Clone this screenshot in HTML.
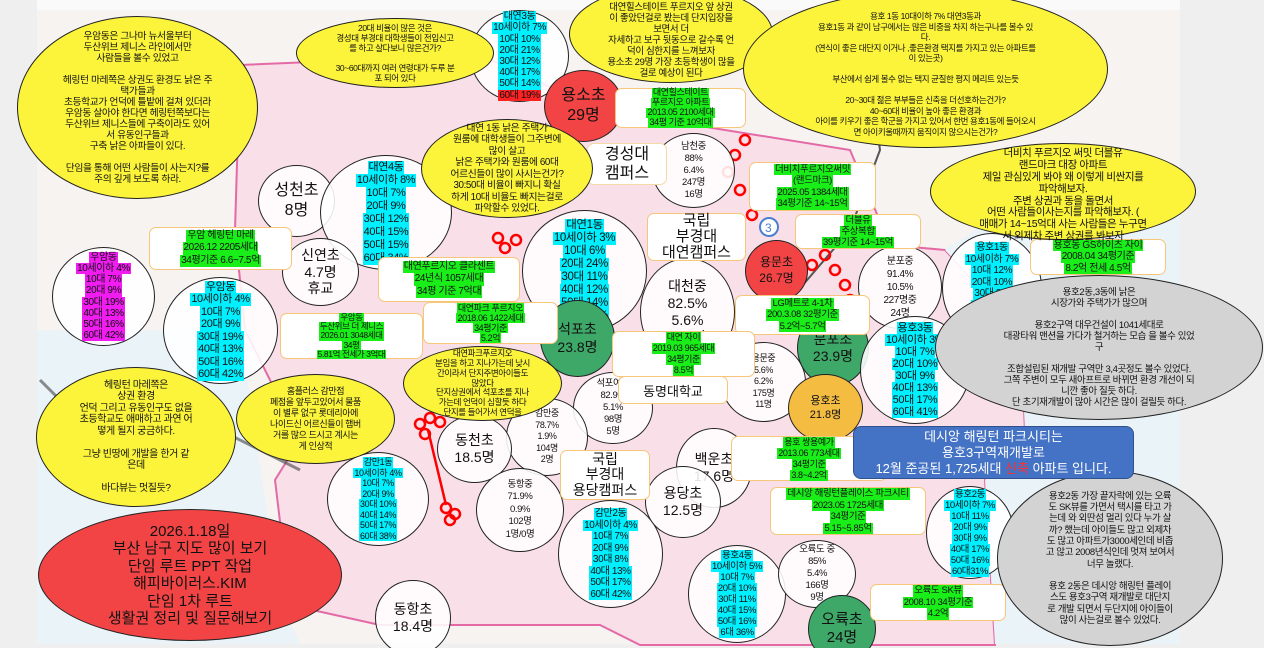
<!DOCTYPE html>
<html><head><meta charset="utf-8">
<style>
*{box-sizing:border-box;margin:0;padding:0}
html,body{width:1264px;height:648px;overflow:hidden}
body{background:#efefef;font-family:"Liberation Sans","Noto Sans CJK KR",sans-serif;color:#111;position:relative}
.a{position:absolute;display:flex;flex-direction:column;align-items:center;justify-content:center;text-align:center;white-space:nowrap;overflow:visible}
.e{border-radius:50%;border:1.5px solid #222}
.y{background:#fbf43a}
.w{background:rgba(255,255,255,.88)}
.gr{background:#d3d3d3}
.rd{background:#f24444}
.gn{background:#3ea868}
.or{background:#f4bd42}
.b{background:#fff;border:1.5px solid #f6c67a;border-radius:7px}
.l{line-height:1.12;letter-spacing:-.4px}
.cy span{background:#00f0ff}
.mg span{background:#f01cf0}
.g span{background:#19ee19}
span{padding:0 1px}
</style></head><body>
<svg width="1264" height="648" style="position:absolute;left:0;top:0">
<rect x="37" y="10" width="1143" height="634" fill="#f6f3f1"/>
<rect x="37" y="0" width="1143" height="10" fill="#fafafa"/>
<polygon points="240,65 480,55 600,110 850,150 890,245 945,250 1020,330 1025,430 985,480 995,645 640,645 600,625 380,625 290,605 275,480 300,440 245,330 235,230" fill="#f8dfe8" stroke="#e46aa6" stroke-width="2"/>
<polygon points="37,330 240,330 280,600 300,644 37,644" fill="#e9f3f8"/>
<polygon points="1020,200 1180,200 1180,644 995,644 985,480 1025,430 1020,330 945,250" fill="#eaf3f8"/>
<path d="M860,0 L880,150 L850,230 L790,300" stroke="#555" stroke-width="2" fill="none"/>
<path d="M40,380 L120,460 L200,420 L300,470" stroke="#444" stroke-width="3" fill="none" opacity=".6"/>
<g fill="none" stroke="#f00" stroke-width="2.5">
<circle cx="498" cy="238" r="5"/><circle cx="505" cy="248" r="5"/><circle cx="516" cy="240" r="5"/>
<circle cx="745" cy="140" r="5"/><circle cx="735" cy="155" r="5"/><circle cx="728" cy="172" r="5"/><circle cx="740" cy="190" r="5"/><circle cx="752" cy="215" r="5"/>
<circle cx="790" cy="290" r="5"/><circle cx="800" cy="278" r="5"/><circle cx="812" cy="265" r="5"/><circle cx="825" cy="255" r="5"/><circle cx="835" cy="270" r="5"/><circle cx="845" cy="285" r="5"/><circle cx="850" cy="300" r="5"/>
<circle cx="420" cy="424" r="5"/><circle cx="430" cy="418" r="5"/><circle cx="440" cy="422" r="5"/><circle cx="425" cy="434" r="5"/>
<circle cx="446" cy="508" r="5"/><circle cx="455" cy="514" r="5"/><circle cx="450" cy="520" r="5"/>
<path d="M428,430 L446,505"/>
</g>
<circle cx="769" cy="227" r="9" fill="#fff" stroke="#4a7fd0" stroke-width="2"/>
<text x="765" y="232" font-size="12" fill="#4a7fd0" font-family="Liberation Sans">3</text>
</svg>

<div class="a e w l cy" style="left:470px;top:10px;width:99px;height:92px;font-size:10px"><span>대연3동</span><span>10세이하 7%</span><span>10대 10%</span><span>20대 21%</span><span>30대 12%</span><span>40대 17%</span><span>50대 14%</span><span style="background:#f22">60대 19%</span></div>
<div class="a e rd" style="left:544px;top:70px;width:79px;height:72px;font-size:16px;line-height:1.25">용소초<br>29명</div>
<div class="a e w" style="left:258px;top:165px;width:77px;height:72px;font-size:16px;line-height:1.25">성천초<br>8명</div>
<div class="a e w l cy" style="left:320px;top:155px;width:132px;height:115px;font-size:11px;line-height:13px"><span>대연4동</span><span>10세이하 8%</span><span>10대 7%</span><span>20대 9%</span><span>30대 12%</span><span>40대 15%</span><span>50대 15%</span><span>60대 34%</span></div>
<div class="a e w" style="left:282px;top:238px;width:77px;height:68px;font-size:14px;line-height:1.2">신연초<br>4.7명<br>휴교</div>
<div class="a e w l mg" style="left:52px;top:247px;width:103px;height:99px;font-size:10px"><span>우암동</span><span>10세이하 4%</span><span>10대 7%</span><span>20대 9%</span><span>30대 19%</span><span>40대 13%</span><span>50대 16%</span><span>60대 42%</span></div>
<div class="a e w l cy" style="left:163px;top:277px;width:115px;height:107px;font-size:11px;line-height:12.5px"><span>우암동</span><span>10세이하 4%</span><span>10대 7%</span><span>20대 9%</span><span>30대 19%</span><span>40대 13%</span><span>50대 16%</span><span>60대 42%</span></div>
<div class="a e w l cy" style="left:522px;top:210px;width:125px;height:122px;font-size:11.5px;line-height:13px"><span>대연1동</span><span>10세이하 3%</span><span>10대 6%</span><span>20대 24%</span><span>30대 11%</span><span>40대 12%</span><span>50대 14%</span><span>60대 30%</span></div>
<div class="a e gn" style="left:540px;top:300px;width:75px;height:77px;font-size:14px;line-height:1.25">석포초<br>23.8명</div>
<div class="a e w l" style="left:652px;top:133px;width:83px;height:75px;font-size:9.5px;line-height:12px">남천중<br>88%<br>6.4%<br>247명<br>16명</div>
<div class="a e w" style="left:640px;top:258px;width:95px;height:108px;font-size:14px;line-height:1.2">대천중<br>82.5%<br>5.6%<br>193명</div>
<div class="a e rd" style="left:745px;top:240px;width:63px;height:62px;font-size:12px;line-height:1.3">용문초<br>26.7명</div>
<div class="a e w l" style="left:858px;top:245px;width:84px;height:84px;font-size:10px;line-height:13px">분포중<br>91.4%<br>10.5%<br>227명중<br>24명</div>
<div class="a e w l cy" style="left:942px;top:233px;width:100px;height:110px;font-size:10px;line-height:11.5px"><span>용호1동</span><span>10세이하 7%</span><span>10대 12%</span><span>20대 10%</span><span>30대 8%</span><span>40대 16%</span><span>50대 18%</span><span>60대 29%</span></div>
<div class="a e w l" style="left:721px;top:342px;width:85px;height:80px;font-size:9px;line-height:11.5px">용문중<br>5.6%<br>6.2%<br>175명<br>11명</div>
<div class="a e gn" style="left:797px;top:310px;width:72px;height:76px;font-size:14px;line-height:1.25">분포초<br>23.9명</div>
<div class="a e w l cy" style="left:860px;top:316px;width:110px;height:108px;font-size:11px;line-height:12px"><span>용호3동</span><span>10세이하 3%</span><span>10대 7%</span><span>20대 10%</span><span>30대 9%</span><span>40대 13%</span><span>50대 17%</span><span>60대 41%</span></div>
<div class="a e or" style="left:788px;top:374px;width:75px;height:68px;font-size:11px;line-height:1.3">용호초<br>21.8명</div>
<div class="a e w l" style="left:573px;top:372px;width:80px;height:72px;font-size:9.5px;line-height:12px">석포여중<br>82.9%<br>5.1%<br>98명<br>5명</div>
<div class="a e w l" style="left:506px;top:398px;width:82px;height:78px;font-size:9px;line-height:11.5px">감만중<br>78.7%<br>1.9%<br>104명<br>2명</div>
<div class="a e w" style="left:437px;top:415px;width:75px;height:68px;font-size:14px;line-height:1.25">동천초<br>18.5명</div>
<div class="a e w l" style="left:476px;top:468px;width:88px;height:84px;font-size:9.5px;line-height:12.5px">동항중<br>71.9%<br>0.9%<br>102명<br>1명/0명</div>
<div class="a e w l cy" style="left:327px;top:452px;width:102px;height:94px;font-size:9px;line-height:10.5px"><span>감만1동</span><span>10세이하 4%</span><span>10대 7%</span><span>20대 9%</span><span>30대 10%</span><span>40대 14%</span><span>50대 17%</span><span>60대 38%</span></div>
<div class="a e w" style="left:375px;top:580px;width:76px;height:76px;font-size:14px;line-height:1.25">동항초<br>18.4명</div>
<div class="a e w l cy" style="left:558px;top:500px;width:105px;height:108px;font-size:10px;line-height:11.5px"><span>감만2동</span><span>10세이하 4%</span><span>10대 7%</span><span>20대 9%</span><span>30대 8%</span><span>40대 13%</span><span>50대 17%</span><span>60대 42%</span></div>
<div class="a e w" style="left:676px;top:428px;width:76px;height:80px;font-size:14px;line-height:1.25">백운초<br>17.6명</div>
<div class="a e w" style="left:645px;top:466px;width:76px;height:72px;font-size:14px;line-height:1.25">용당초<br>12.5명</div>
<div class="a e w l cy" style="left:926px;top:486px;width:88px;height:93px;font-size:9.5px;line-height:11px"><span>용호2동</span><span>10세이하 7%</span><span>10대 11%</span><span>20대 9%</span><span>30대 9%</span><span>40대 17%</span><span>50대 16%</span><span>60대31%</span></div>
<div class="a e w l cy" style="left:688px;top:545px;width:98px;height:98px;font-size:9.5px;line-height:11px"><span>용호4동</span><span>10세이하 5%</span><span>10대 7%</span><span>20대 10%</span><span>30대 11%</span><span>40대 15%</span><span>50대 16%</span><span>6대 36%</span></div>
<div class="a e w l" style="left:778px;top:540px;width:78px;height:68px;font-size:9.5px;line-height:12px">오륙도 중<br>85%<br>5.4%<br>166명<br>9명</div>
<div class="a e gn" style="left:808px;top:595px;width:68px;height:68px;font-size:15px;line-height:1.2">오륙초<br>24명</div>

<div class="a b" style="left:587px;top:143px;width:80px;height:42px;font-size:16px;line-height:1.2;border-color:#f5d9a6">경성대<br>캠퍼스</div>
<div class="a b" style="left:647px;top:213px;width:99px;height:48px;font-size:15px;line-height:1.05">국립<br>부경대<br>대연캠퍼스</div>
<div class="a b" style="left:560px;top:450px;width:90px;height:50px;font-size:14px;line-height:1.1">국립<br>부경대<br>용당캠퍼스</div>
<div class="a b" style="left:618px;top:376px;width:110px;height:28px;font-size:13px">동명대학교</div>
<div class="a b l g" style="left:149px;top:227px;width:143px;height:43px;font-size:10px;line-height:12.5px"><span>우암 헤링턴 마레</span><span>2026.12 2205세대</span><span>34평기준 6.6~7.5억</span></div>
<div class="a b l g" style="left:378px;top:257px;width:142px;height:45px;font-size:10px;line-height:12.5px"><span>대연푸르지오 클라센트</span><span>24년식 1057세대</span><span>34평 기준 7억대</span></div>
<div class="a b l g" style="left:423px;top:302px;width:135px;height:42px;font-size:9px;line-height:10px"><span>대연파크 푸르지오</span><span>2018.06 1422세대</span><span>34평기준</span><span>5.2억</span></div>
<div class="a b l g" style="left:280px;top:313px;width:143px;height:46px;font-size:8.5px;line-height:9.2px"><span>우암동</span><span>두산위브 더 제니스</span><span>2026.01 3048세대</span><span>34평</span><span>5.81억 전세가 3억대</span></div>
<div class="a b l g" style="left:615px;top:88px;width:131px;height:40px;font-size:9px;line-height:9.8px"><span>대연힐스테이트</span><span>푸르지오 아파트</span><span>2013.05 2100세대</span><span>34평 기준 10억대</span></div>
<div class="a b l g" style="left:749px;top:162px;width:127px;height:49px;font-size:9.5px;line-height:11.5px"><span>더비치푸르지오써밋</span><span>(랜드마크)</span><span>2025.05 1384세대</span><span>34평기준 14~15억</span></div>
<div class="a b l g" style="left:795px;top:214px;width:126px;height:35px;font-size:9.5px;line-height:11px"><span>더블유</span><span>주상복합</span><span>39평기준 14~15억</span></div>
<div class="a b l g" style="left:1030px;top:239px;width:136px;height:36px;font-size:10px;line-height:11.5px"><span>용호동 GS하이츠 자이</span><span>2008.04 34평기준</span><span>8.2억 전세 4.5억</span></div>
<div class="a b l g" style="left:735px;top:295px;width:135px;height:40px;font-size:9.5px;line-height:11.5px"><span>LG메트로 4-1차</span><span>200.3.08 32평기준</span><span>5.2억~5.7억</span></div>
<div class="a b l g" style="left:612px;top:331px;width:143px;height:46px;font-size:9px;line-height:11px"><span>대연 자이</span><span>2019.03 965세대</span><span>34평기준</span><span>8.5억</span></div>
<div class="a b l g" style="left:731px;top:436px;width:156px;height:45px;font-size:9px;line-height:11px"><span>용호 쌍용예가</span><span>2013.06 773세대</span><span>34평기준</span><span>3.8~4.2억</span></div>
<div class="a b l g" style="left:770px;top:487px;width:156px;height:48px;font-size:9.5px;line-height:11.5px"><span>데시앙 해링턴플레이스 파크시티</span><span>2023.05 1725세대</span><span>34평기준</span><span>5.15~5.85억</span></div>
<div class="a b l g" style="left:870px;top:584px;width:136px;height:37px;font-size:9.5px;line-height:11.5px"><span>오륙도 SK뷰</span><span>2008.10 34평기준</span><span>4.2억</span></div>

<div class="a e y l" style="left:17px;top:16px;width:241px;height:183px;font-size:9.8px;line-height:11px">우암동은 그나마 뉴서울부터<br>두산위브 제니스 라인에서만<br>사람들을 볼수 있었고<br><br>헤링턴 마레쪽은 상권도 환경도 낡은 주<br>택가들과<br>초등학교가 언덕에 틀밭에 걸쳐 있더라<br>우암동 살아야 한다면 헤링턴쪽보다는<br>두산위브 제니스들에 구축이라도 있어<br>서 유동인구들과<br>구축 낡은 아파들이 있다.<br><br>단임을 통해 어떤 사람들이 사는지?를<br>주의 깊게 보도록 하라.</div>
<div class="a e y l" style="left:296px;top:18px;width:198px;height:70px;font-size:8.5px;line-height:10px">20대 비율이 많은 것은<br>경성대 부경대 대학생들이 전입신고<br>를 하고 살다보니 많은건가?<br><br>30~60대까지 여러 연령대가 두루 분<br>포 되어 있다</div>
<div class="a e y l" style="left:569px;top:-15px;width:204px;height:98px;font-size:9.5px;line-height:11px;padding-top:12px">대연힐스테이트 푸르지오 앞 상권<br>이 좋았던걸로 봤는데 단지입장을<br>보면서 더<br>자세하고 보구 뒷동으로 갈수록 언<br>덕이 심한지를 느껴보자<br>용소초 29명 가장 초등학생이 많을<br>걸로 예상이 된다</div>
<div class="a e y l" style="left:743px;top:-10px;width:365px;height:158px;font-size:8.5px;line-height:10.5px;padding-top:10px">용호 1동 10대이하 7% 대연3동과<br>용호1동 과 같이 남구에서는 많은 비중을 차지 하는구나를 볼수 있<br>다.<br>(연식이 좋은 대단지 이거나 ,좋은환경 택지를 가지고 있는 아파트를<br>이 있는곳)<br><br>부산에서 쉽게 볼수 없는 택지 균질한 평지 메리트 있는듯<br><br>20~30대 젊은 부부들은 신축을 더선호하는건가?<br>40~60대 비율이 높아 좋은 환경과<br>아이를 키우기 좋은 학군을 가지고 있어서 한번 용호1동에 들어오시<br>면 아이키울때까지 움직이지 않으시는건가?</div>
<div class="a e y l" style="left:930px;top:143px;width:266px;height:97px;font-size:10.5px;line-height:11.8px;padding-top:8px">더비치 푸르지오 써밋 더블유<br>랜드마크 대장 아파트<br>제일 관심있게 봐야 왜 이렇게 비싼지를<br>파악해보자.<br>주변 상권과 동을 돌면서<br>어떤 사람들이사는지를 파악해보자. (<br>매매가 14~15억대 사는 사람들은 누구면<br>서 외제차 주변 상권를 봐보자</div>
<div class="a e y l" style="left:421px;top:119px;width:172px;height:99px;font-size:9.8px;line-height:11.5px">대연 1동 낡은 주택가<br>원룸에 대학생들이 그주변에<br>많이 살고<br>낡은 주택가와 원룸에 60대<br>어르신들이 많이 사시는건가?<br>30:50대 비율이 빠지니 확실<br>하게 10대 비율도 빠지는걸로<br>파악할수 있었다.</div>
<div class="a e y l" style="left:36px;top:367px;width:200px;height:140px;font-size:10px;line-height:11.5px">헤링턴 마레쪽은<br>상권 환경<br>언덕 그리고 유동인구도 없을<br>초등학교도 애매하고 과연 어<br>떻게 될지 궁금하다.<br><br>그냥 빈땅에 개발을 한거 같<br>은데<br><br>바다뷰는 멋질듯?</div>
<div class="a e y l" style="left:236px;top:374px;width:159px;height:90px;font-size:9px;line-height:11px">홈플러스 감만점<br>폐점을 앞두고있어서 물품<br>이 별루 없구 롯데리아에<br>나이드신 어르신들이 햄버<br>거를 많으 드시고 계시는<br>게 인상적</div>
<div class="a e y l" style="left:403px;top:346px;width:159px;height:75px;font-size:8.5px;line-height:9.8px">대연파크푸르지오<br>분임을 하고 지나가는데 낮시<br>간이라서 단지주변아이들도<br>많았다<br>단지상권에서 석포초를 지나<br>가는데 언덕이 심할듯 하다<br>단지를 들어가서 연덕을</div>

<div class="a e rd" style="left:38px;top:509px;width:304px;height:132px;font-size:15px;line-height:17.5px">2026.1.18일<br>부산 남구 지도 많이 보기<br>단임 루트 PPT 작업<br>해피바이러스.KIM<br>단임 1차 루트<br>생활권 정리 및 질문해보기</div>

<div class="a e gr l" style="left:935px;top:275px;width:328px;height:145px;font-size:9.5px;line-height:11px">용호2동,3동에 낡은<br>시장가와 주택가가 많으며<br><br>용호2구역 대우건설이 1041세대로<br>대광타워 맨션을 가다가 철거하는 모습 을 볼수 있었<br>구<br><br>조합설립된 재개발 구역만 3,4곳정도 볼수 있었다.<br>그쪽 주변이 모두 새아프트로 바뀌면 환경 개선이 되<br>니깐 좋아 질듯 하다.<br>단 초기재개발이 많아 시간은 많이 걸릴듯 하다.</div>
<div class="a e gr l" style="left:997px;top:471px;width:226px;height:175px;font-size:9.5px;line-height:11.3px">용호2동 가장 끝자락에 있는 오륙<br>도 SK뷰를 가면서 택시를 타고 가<br>는데 와 외딴섬 멀리 있다 누가 살<br>까? 했는데 아이들도 많고 외제차<br>도 많고 아파트가3000세인데 비좁<br>고 않고 2008년식인데 멋져 보여서<br>너무 놀랬다.<br><br>용호 2동은 데시앙 해링턴 플레이<br>스도 용호3구역 재개발로 대단지<br>로 개발 되면서 두단지에 아이들이<br>많이 사는걸로 볼수 있었다.</div>

<div class="a" style="left:853px;top:426px;width:281px;height:53px;background:#4472c4;border:1px solid #2f528f;border-radius:8px;color:#fff;font-size:13px;line-height:16px"><div>데시앙 해링턴 파크시티는<br>용호3구역재개발로<br>12월 준공된 1,725세대 <b style="color:#ff3030;font-weight:normal">신축</b> 아파트 입니다.</div></div>
</body></html>
